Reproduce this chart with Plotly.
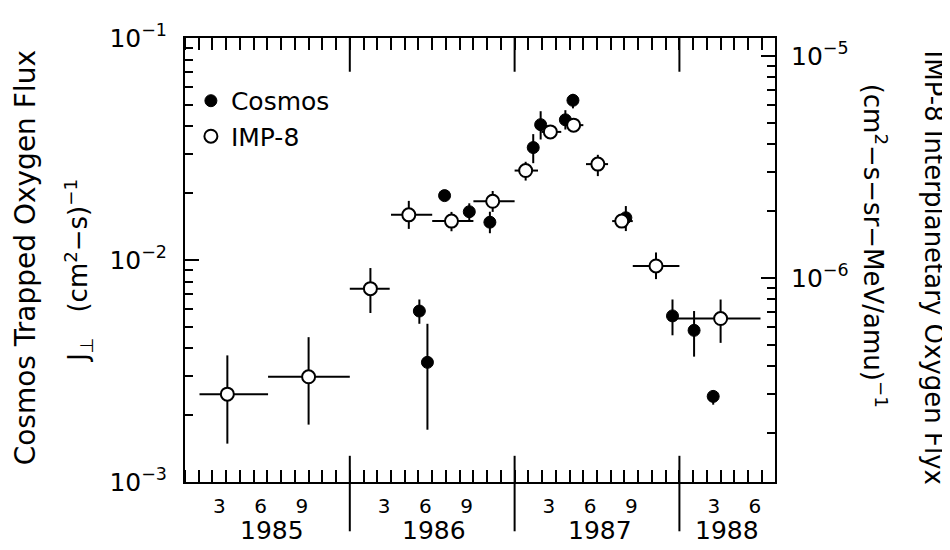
import plotly.graph_objects as go

# ---------------- data ----------------
# Cosmos trapped oxygen flux, J_perp (cm^2-s)^-1  -> left axis
cosmos_date = [1986.422, 1986.471, 1986.575, 1986.725, 1986.850, 1987.113, 1987.158,
               1987.308, 1987.354, 1987.675, 1987.958, 1988.089, 1988.205]
cosmos_flux = [5.89e-3, 3.46e-3, 1.95e-2, 1.65e-2, 1.48e-2, 3.21e-2, 4.07e-2,
               4.28e-2, 5.24e-2, 1.55e-2, 5.6e-3, 4.82e-3, 2.43e-3]
cosmos_low = [5.16e-3, 1.72e-3, 1.90e-2, 1.50e-2, 1.32e-2, 2.73e-2, 3.49e-2,
              3.87e-2, 4.82e-2, 1.35e-2, 4.58e-3, 3.67e-3, 2.23e-3]
cosmos_high = [6.64e-3, 5.16e-3, 2.00e-2, 1.80e-2, 1.65e-2, 3.69e-2, 4.68e-2,
               4.73e-2, 5.60e-2, 1.75e-2, 6.64e-3, 5.89e-3, 2.59e-3]

# IMP-8 interplanetary oxygen flux (cm^2-s-sr-MeV/amu)^-1 -> right axis
imp_date = [1985.257, 1985.750, 1986.125, 1986.358, 1986.617, 1986.867, 1987.067,
            1987.217, 1987.358, 1987.505, 1987.650, 1987.858, 1988.250]
imp_date_start = [1985.088, 1985.504, 1986.000, 1986.250, 1986.500, 1986.750, 1987.000,
                  1987.163, 1987.317, 1987.433, 1987.592, 1987.717, 1987.983]
imp_date_end = [1985.504, 1986.000, 1986.242, 1986.500, 1986.750, 1987.000, 1987.142,
                1987.283, 1987.417, 1987.567, 1987.717, 1988.000, 1988.492]
imp_flux = [2.99e-7, 3.58e-7, 8.93e-7, 1.92e-6, 1.80e-6, 2.21e-6, 3.04e-6,
            4.54e-6, 4.87e-6, 3.25e-6, 1.80e-6, 1.13e-6, 6.55e-7]
imp_low = [1.79e-7, 2.18e-7, 6.94e-7, 1.66e-6, 1.62e-6, 1.98e-6, 2.74e-6,
           4.33e-6, 4.57e-6, 2.87e-6, 1.68e-6, 9.86e-7, 5.09e-7]
imp_high = [4.47e-7, 5.40e-7, 1.106e-6, 2.22e-6, 1.98e-6, 2.46e-6, 3.33e-6,
            4.75e-6, 5.17e-6, 3.58e-6, 1.92e-6, 1.30e-6, 7.98e-7]

# axis labels
month_label_pos = [1985 + 2.5 / 12, 1985 + 5.5 / 12, 1985 + 8.5 / 12,
                   1986 + 2.5 / 12, 1986 + 5.5 / 12, 1986 + 8.5 / 12,
                   1987 + 2.5 / 12, 1987 + 5.5 / 12, 1987 + 8.5 / 12,
                   1988 + 2.5 / 12, 1988 + 5.5 / 12]
month_labels = ["3", "6", "9", "3", "6", "9", "3", "6", "9", "3", "6"]
year_labels = ["1985", "1986", "1987", "1988"]
year_label_pos = [1985.525, 1986.51, 1987.52, 1988.29]
year_boundaries = [1986, 1987, 1988]

FONT = "DejaVu Sans, Liberation Sans, sans-serif"

fig = go.Figure()

fig.add_trace(go.Scatter(
    x=cosmos_date, y=cosmos_flux, mode="markers", name="Cosmos",
    marker=dict(symbol="circle", size=12, color="black", line=dict(color="black", width=1)),
    error_y=dict(type="data", symmetric=False,
                 array=[h - v for h, v in zip(cosmos_high, cosmos_flux)],
                 arrayminus=[v - l for v, l in zip(cosmos_flux, cosmos_low)],
                 color="black", thickness=2, width=0),
    yaxis="y", cliponaxis=False,
))

fig.add_trace(go.Scatter(
    x=imp_date, y=imp_flux, mode="markers", name="IMP-8",
    marker=dict(symbol="circle", size=13, color="white", line=dict(color="black", width=2)),
    error_y=dict(type="data", symmetric=False,
                 array=[h - v for h, v in zip(imp_high, imp_flux)],
                 arrayminus=[v - l for v, l in zip(imp_flux, imp_low)],
                 color="black", thickness=2, width=0),
    error_x=dict(type="data", symmetric=False,
                 array=[e - d for e, d in zip(imp_date_end, imp_date)],
                 arrayminus=[d - s for d, s in zip(imp_date, imp_date_start)],
                 color="black", thickness=2, width=0),
    yaxis="y2", cliponaxis=False,
))

log_axis_common = dict(
    type="log", showgrid=False, zeroline=False,
    showline=True, linecolor="black", linewidth=2,
    tickmode="linear", tick0=0, dtick=1,
    exponentformat="power", showexponent="all",
    ticks="inside", ticklen=14, tickwidth=2, tickcolor="black",
    tickfont=dict(size=20), ticklabeloverflow="allow",
    minor=dict(dtick="D1", ticks="inside", ticklen=8, tickwidth=1.5,
               tickcolor="black", showgrid=False),
)

# the page body adds an 8 px offset; the figure is sized so the plot area
# lands at x 185-775, y 22-482 of the 950x550 window
fig.update_layout(
    width=942, height=542,
    margin=dict(l=177, r=175, t=14, b=68),
    plot_bgcolor="white", paper_bgcolor="white",
    font=dict(family=FONT, color="black", size=19),
    legend=dict(x=0.01, y=0.91, xanchor="left", yanchor="top",
                bgcolor="rgba(0,0,0,0)", font=dict(size=25, family=FONT),
                itemwidth=30, tracegroupgap=0),
    xaxis=dict(
        range=[1985.0, 1988.58], showgrid=False, zeroline=False,
        showline=True, linecolor="black", linewidth=2, mirror="ticks",
        tickmode="array", tickvals=month_label_pos, ticktext=month_labels,
        ticks="", tickfont=dict(size=20), ticklabelstandoff=5,
        minor=dict(tick0=1985, dtick=1 / 12, ticks="inside", ticklen=12,
                   tickwidth=2, tickcolor="black", showgrid=False),
    ),
    yaxis=dict(range=[-3, -1], mirror=False, ticklabelstandoff=12, **log_axis_common),
    yaxis2=dict(range=[-6.92, -4.92], overlaying="y", side="right", anchor="x",
                ticklabelstandoff=10, **log_axis_common),
)

# year separators (long ticks) on bottom and top axes
for yb in year_boundaries:
    fig.add_shape(type="line", xref="x", yref="paper", x0=yb, x1=yb, y0=-0.111, y1=0.059,
                  line=dict(color="black", width=2))
    fig.add_shape(type="line", xref="x", yref="paper", x0=yb, x1=yb, y0=0.924, y1=1.0,
                  line=dict(color="black", width=2))

for lab, pos in zip(year_labels, year_label_pos):
    fig.add_annotation(x=pos, y=-0.109, xref="x", yref="paper", text=lab,
                       showarrow=False, font=dict(size=25, family=FONT),
                       xanchor="center", yanchor="middle")

# axis titles
fig.add_annotation(x=-0.271, y=0.504, xref="paper", yref="paper",
                   text="Cosmos Trapped Oxygen Flux", textangle=-90, showarrow=False,
                   font=dict(size=28, family=FONT), xanchor="center", yanchor="middle")
fig.add_annotation(x=-0.181, y=0.476, xref="paper", yref="paper",
                   text="J<sub>⊥</sub>   (cm<sup>2</sup>−s)<sup>−1</sup>", textangle=-90,
                   showarrow=False, font=dict(size=26, family=FONT),
                   xanchor="center", yanchor="middle")
fig.add_annotation(x=1.2695, y=0.483, xref="paper", yref="paper",
                   text="IMP-8 Interplanetary Oxygen Flyx", textangle=90, showarrow=False,
                   font=dict(size=26, family=FONT), xanchor="center", yanchor="middle")
fig.add_annotation(x=1.169, y=0.533, xref="paper", yref="paper",
                   text="(cm<sup>2</sup>−s−sr−MeV/amu)<sup>−1</sup>", textangle=90,
                   showarrow=False, font=dict(size=26, family=FONT),
                   xanchor="center", yanchor="middle")

fig.write_html("out.html")
